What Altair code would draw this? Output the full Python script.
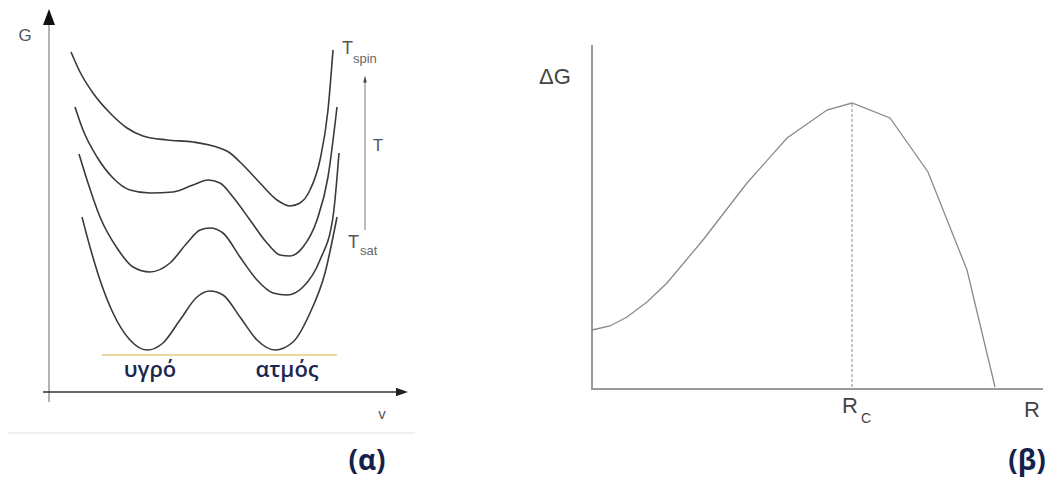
import altair as alt
import pandas as pd

# ---------------- panel (α): G(v) curves, image-pixel units
c1_x = [71, 80, 93, 110, 127, 143, 167, 193, 213, 230, 243, 260, 277, 290, 300, 310, 320, 328, 333]
c1_y = [52, 72, 93, 113, 128, 136, 140, 142, 146, 153, 165, 183, 200, 206, 203, 190, 160, 110, 50]
c2_x = [75, 83, 97, 113, 130, 150, 173, 193, 208, 220, 233, 250, 267, 280, 290, 303, 317, 328, 337]
c2_y = [107, 130, 157, 178, 190, 193, 192, 185, 180, 183, 197, 220, 243, 255, 256, 247, 220, 177, 107]
c3_x = [79, 88, 100, 117, 133, 150, 170, 187, 200, 210, 223, 240, 257, 273, 287, 303, 320, 333, 339]
c3_y = [154, 183, 217, 248, 267, 272, 263, 243, 230, 228, 233, 257, 280, 293, 295, 287, 260, 217, 153]
c4_x = [82, 90, 100, 113, 130, 147, 163, 180, 197, 210, 223, 240, 257, 275, 293, 310, 325, 337]
c4_y = [217, 247, 280, 313, 340, 350, 343, 320, 297, 291, 295, 317, 340, 350, 342, 313, 273, 217]

# ---------------- panel (β): ΔG(R)
b_x = [592, 610, 627, 647, 667, 703, 747, 787, 827, 852, 890, 928, 967, 995]
b_y = [330, 326, 317, 302, 283, 240, 183, 138, 110, 103, 118, 172, 270, 387]

rows = []
for cid, (xs, ys) in enumerate([(c1_x, c1_y), (c2_x, c2_y), (c3_x, c3_y), (c4_x, c4_y)]):
    for i, (a, b) in enumerate(zip(xs, ys)):
        rows.append({"c": cid, "i": i, "x": a, "y": b})
curves = pd.DataFrame(rows)
beta = pd.DataFrame({"i": range(len(b_x)), "x": b_x, "y": b_y})

X = alt.Scale(domain=[8, 1048], nice=False, zero=False)
Y = alt.Scale(domain=[8, 480], nice=False, zero=False, reverse=True)


def seg(df, color, width, dash=None):
    m = alt.Chart(pd.DataFrame(df)).mark_rule(color=color, strokeWidth=width,
                                              **({"strokeDash": dash} if dash else {}))
    return m.encode(x=alt.X("x:Q", scale=X, axis=None), y=alt.Y("y:Q", scale=Y, axis=None),
                    x2="x2:Q", y2="y2:Q")


def pts(df, shape, color, size):
    return alt.Chart(pd.DataFrame(df)).mark_point(shape=shape, filled=True, color=color,
                                                   size=size, opacity=1, strokeWidth=0).encode(
        x=alt.X("x:Q", scale=X, axis=None), y=alt.Y("y:Q", scale=Y, axis=None))


def txt(df, size, color, font="Liberation Sans", weight="normal", align="center", baseline="middle"):
    return alt.Chart(pd.DataFrame(df)).mark_text(fontSize=size, color=color, font=font,
                                                  fontWeight=weight, align=align,
                                                  baseline=baseline).encode(
        x=alt.X("x:Q", scale=X, axis=None), y=alt.Y("y:Q", scale=Y, axis=None), text="t:N")


layers = [
    seg({"x": [7], "x2": [415], "y": [433], "y2": [433]}, "#f0f0f0", 2),
    seg({"x": [49], "x2": [49], "y": [402], "y2": [22]}, "#8a8a8a", 1.3),
    seg({"x": [43], "x2": [400], "y": [392], "y2": [392]}, "#333333", 1.5),
    pts({"x": [49], "y": [17]}, "M0,-1L0.75,1L-0.75,1Z", "#111111", 256),
    pts({"x": [402], "y": [392]}, "M1,0L-1,0.7L-1,-0.7Z", "#222222", 144),
    seg({"x": [102], "x2": [337], "y": [355], "y2": [355]}, "#ead9a2", 2),
    alt.Chart(curves).mark_line(color="#3a3a3a", strokeWidth=1.6, interpolate="monotone").encode(
        x=alt.X("x:Q", scale=X, axis=None), y=alt.Y("y:Q", scale=Y, axis=None),
        detail="c:N", order="i:Q"),
    seg({"x": [365], "x2": [365], "y": [230], "y2": [80]}, "#777777", 1),
    pts({"x": [365], "y": [79]}, "M0,-1L0.5,1L-0.5,1Z", "#444444", 49),
    txt({"x": [25], "y": [36], "t": ["G"]}, 17, "#555555"),
    txt({"x": [382], "y": [414], "t": ["v"]}, 15, "#555555"),
    txt({"x": [378], "y": [146], "t": ["T"]}, 17, "#555555"),
    txt({"x": [342, 348], "y": [49, 243], "t": ["T", "T"]}, 18, "#555555", align="left"),
    txt({"x": [353], "y": [59], "t": ["spin"]}, 13, "#666666", align="left"),
    txt({"x": [360], "y": [251], "t": ["sat"]}, 13, "#666666", align="left"),
    txt({"x": [150, 287], "y": [370, 370], "t": ["υγρό", "ατμός"]}, 22, "#1a2650", font="Open Sans",
        weight=600),
    txt({"x": [367, 1027], "y": [462, 462], "t": ["(α)", "(β)"]}, 28, "#14224a", font="Open Sans",
        weight="bold"),
    # panel β
    seg({"x": [592], "x2": [592], "y": [45], "y2": [390]}, "#9a9a9a", 2),
    seg({"x": [591], "x2": [1043], "y": [389], "y2": [389]}, "#9a9a9a", 2),
    seg({"x": [852], "x2": [852], "y": [104], "y2": [388]}, "#8a8a8a", 1, [3, 2]),
    alt.Chart(beta).mark_line(color="#8a8a8a", strokeWidth=1.3).encode(
        x=alt.X("x:Q", scale=X, axis=None), y=alt.Y("y:Q", scale=Y, axis=None), order="i:Q"),
    txt({"x": [555], "y": [77], "t": ["ΔG"]}, 22, "#444444"),
    txt({"x": [850, 1032], "y": [406, 410], "t": ["R", "R"]}, 22, "#444444"),
    txt({"x": [866], "y": [419], "t": ["C"]}, 14, "#444444"),
]

chart = alt.layer(*layers).properties(
    width=1040, height=472, padding=0, autosize=alt.AutoSizeParams(type="none")
).configure_view(stroke=None)

chart.save("out.html", embed_options={"renderer": "svg", "actions": False})
